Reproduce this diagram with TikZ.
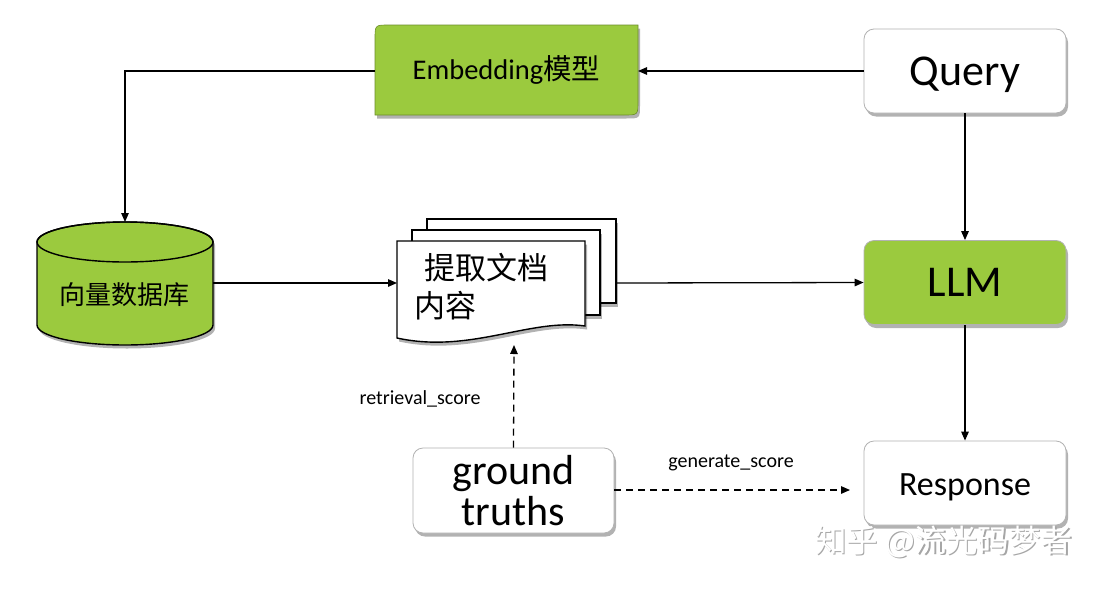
\documentclass[tikz,border=0pt]{standalone}
\usepackage{fontspec}
\setmainfont{Carlito}
\newfontfamily\cjk{Noto Sans CJK SC}
\usetikzlibrary{arrows.meta,shadows}
\definecolor{lgreen}{RGB}{155,202,62}
\begin{document}
\begin{tikzpicture}[x=1pt,y=-1pt,
  shad/.style={drop shadow={shadow xshift=2pt,shadow yshift=-3.5pt,opacity=0.3,fill=black}},
  box/.style={draw=gray!60,line width=0.8pt,rounded corners=10pt,minimum width=202pt,minimum height=84pt,fill=white,shad,inner sep=0pt},
  arr/.style={-{Triangle[length=9pt,width=7.5pt]},line width=1.3pt},
  darr/.style={arr,dash pattern=on 7pt off 5pt},
  page/.style={fill=white,draw=black,line width=1.4pt,shad},
  lbl/.style={font=\fontsize{20}{22}\selectfont}
]
\fill[white] (0,0) rectangle (1107,589);
\useasboundingbox (0,0) rectangle (1107,589);

% Embedding shape
\path[fill=lgreen,draw=lgreen!70!black,line width=0.6pt,shad] (375,115) -- (375,39) .. controls (375,25) .. (389,25) -- (638,25) -- (638,101) .. controls (638,115) .. (624,115) -- cycle;
\node[font=\fontsize{28.5}{30}\selectfont] (emb) at (506.5,70) {Embedding{\cjk 模型}};
\coordinate (embW) at (375,71);
\coordinate (embE) at (638,71);

% boxes
\node[box,font=\fontsize{44}{46}\selectfont,text height=36pt,text depth=8pt] (q) at (965,71) {Query};
\node[box,fill=lgreen,font=\fontsize{44}{46}\selectfont] (llm) at (965,282.5) {LLM};
\node[box,font=\fontsize{34}{36}\selectfont,text height=29pt,text depth=4pt] (resp) at (965,483) {Response};
\node[box,minimum width=201pt,minimum height=85pt,align=center,font=\fontsize{42}{41}\selectfont] (gt) at (513.5,490.5) {ground\\truths};

% cylinder
\path[fill=lgreen,draw=black,line width=1.4pt,shad] (37,242) -- (37,325) arc[start angle=180,end angle=0,x radius=88,y radius=20] -- (213,242) arc[start angle=0,end angle=-180,x radius=88,y radius=20] -- cycle;
\draw[line width=1.4pt] (125,242) ellipse[x radius=88,y radius=20];
\node[font=\cjk\fontsize{26}{28}\selectfont] (db) at (124,295) {向量数据库};
\coordinate (dbN) at (125,222);
\coordinate (dbE) at (213,283);

% documents
\path[page] (427,219) rectangle (616,303);
\path[page] (412,230) rectangle (600,315);
\path[page] (397,241) -- (585,241) -- (585,326) .. controls (530,318) and (470,354) .. (397,338) -- cycle;
\node[font=\cjk\fontsize{31}{33}\selectfont] (doc1) at (486,268) {提取文档};
\node[font=\cjk\fontsize{31}{33}\selectfont] (doc2) at (445,306) {内容};
\coordinate (docW) at (397,283);
\coordinate (docE) at (616,283);
\coordinate (docS) at (514,345);
\coordinate (respW) at (850,490);

% connectors
\draw[arr] (q.west) -- (embE);
\draw[arr] (embW) -| (dbN);
\draw[arr] (dbE) -- (docW);
\draw[arr] (docE) -- (llm.west);
\draw[arr] (q.south) -- (llm.north);
\draw[arr] (llm.south) -- (resp.north);
\draw[darr] (gt.north) -- (docS);
\draw[darr] (gt.east |- respW) -- (respW);

% labels
\node[lbl] (l1) at (420,399) {retrieval\_score};
\node[lbl] (l2) at (731,463) {generate\_score};

% watermark
\node[font=\cjk\fontsize{31.5}{33}\selectfont,text=gray!70] (wm0) at (945,543) {知乎 @流光码梦者};
\node[font=\cjk\fontsize{31.5}{33}\selectfont,text=white] (wm) at (943.8,541.8) {知乎 @流光码梦者};
\end{tikzpicture}
\end{document}
